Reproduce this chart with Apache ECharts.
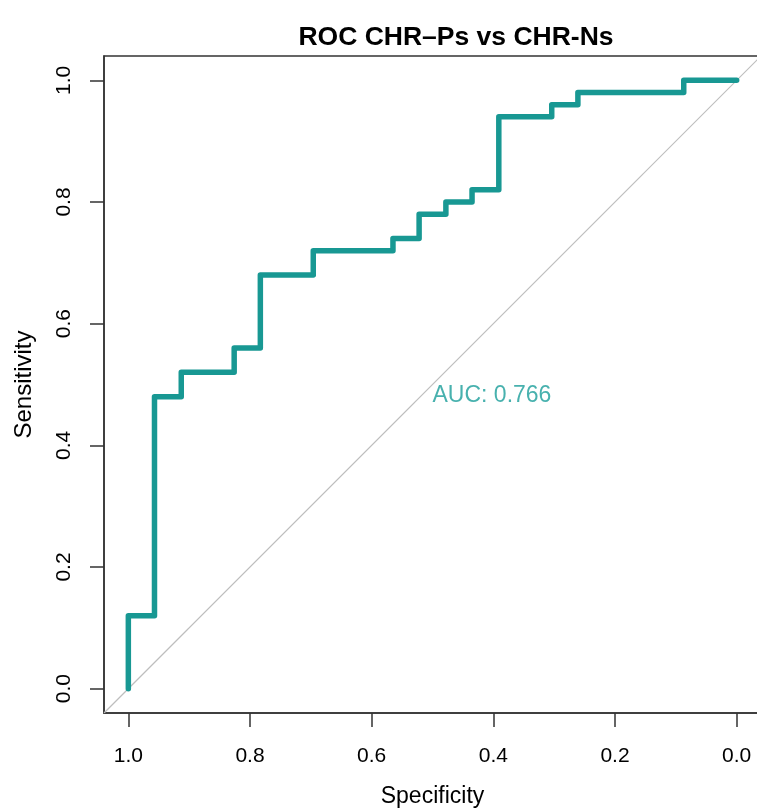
<!DOCTYPE html>
<html>
<head>
<meta charset="utf-8">
<script src="https://cdn.jsdelivr.net/npm/echarts@6/dist/echarts.min.js"></script>
<style>
html,body{margin:0;padding:0;background:#fff;overflow:hidden;}
#chart{width:757px;height:811px;}
</style>
</head>
<body>
<div id="chart"></div>
<script>
// ROC curve corner points (specificity, sensitivity)
var specificity = [1.000, 1.000, 0.957, 0.957, 0.913, 0.913, 0.826, 0.826, 0.783, 0.783,
                   0.696, 0.696, 0.565, 0.565, 0.522, 0.522, 0.478, 0.478, 0.435, 0.435,
                   0.391, 0.391, 0.304, 0.304, 0.261, 0.261, 0.087, 0.087, 0.000];
var sensitivity = [0.00, 0.12, 0.12, 0.48, 0.48, 0.52, 0.52, 0.56, 0.56, 0.68,
                   0.68, 0.72, 0.72, 0.74, 0.74, 0.78, 0.78, 0.80, 0.80, 0.82,
                   0.82, 0.94, 0.94, 0.96, 0.96, 0.98, 0.98, 1.00, 1.00];
var tickValues = [0, 0.2, 0.4, 0.6, 0.8, 1.0];
var tickLabels = ['0.0', '0.2', '0.4', '0.6', '0.8', '1.0'];
var diagonalSpec = [1.04, -0.04];
var diagonalSens = [-0.04, 1.04];
var aucText = 'AUC: 0.766';
var aucPos = [0.5, 0.5];
var titleText = 'ROC CHR\u2013Ps vs CHR-Ns';

var teal = '#189893';
var font = 'Liberation Sans';

var rocData = specificity.map(function (s, i) { return [s, sensitivity[i]]; });
var diagData = diagonalSpec.map(function (s, i) { return [s, diagonalSens[i]]; });

function fmt(v) {
  var i = tickValues.indexOf(Math.round(v * 10) / 10);
  return i >= 0 ? tickLabels[i] : '';
}

var chart = echarts.init(document.getElementById('chart'), null, {renderer: 'canvas'});
chart.setOption({
  animation: false,
  backgroundColor: '#fff',
  title: {
    text: titleText,
    left: 451,
    textAlign: 'center',
    top: 19,
    textStyle: {fontFamily: font, fontWeight: 'bold', fontSize: 26.5, color: '#000'}
  },
  grid: {
    left: 104, top: 56, width: 657, height: 657,
    outerBoundsMode: 'none',
    show: true, borderColor: '#333', borderWidth: 1.5, containLabel: false
  },
  xAxis: {
    type: 'value', inverse: true, min: -0.04, max: 1.04,
    name: 'Specificity', nameLocation: 'middle', nameGap: 72,
    nameTextStyle: {fontFamily: font, fontSize: 23, color: '#000'},
    axisLine: {show: true, onZero: false, lineStyle: {color: '#333', width: 1.5}},
    axisTick: {show: true, customValues: tickValues, length: 14, lineStyle: {color: '#333', width: 1.5}},
    axisLabel: {customValues: tickValues, formatter: fmt, margin: 33,
      fontFamily: font, fontSize: 21, color: '#000'},
    splitLine: {show: false}
  },
  yAxis: {
    type: 'value', min: -0.04, max: 1.04,
    name: 'Sensitivity', nameLocation: 'middle', nameGap: 68, nameRotate: 90,
    nameTextStyle: {fontFamily: font, fontSize: 24, color: '#000'},
    axisLine: {show: true, onZero: false, lineStyle: {color: '#333', width: 1.5}},
    axisTick: {show: true, customValues: tickValues, length: 14, lineStyle: {color: '#333', width: 1.5}},
    axisLabel: {customValues: tickValues, formatter: fmt, margin: 29, rotate: 90,
      fontFamily: font, fontSize: 21, color: '#000'},
    splitLine: {show: false}
  },
  series: [
    {
      type: 'line', data: diagData, showSymbol: false, silent: true,
      lineStyle: {color: '#bebebe', width: 1.2}, z: 1
    },
    {
      type: 'line', data: rocData, showSymbol: false, silent: true,
      lineStyle: {color: teal, width: 5.5, cap: 'round', join: 'round'}, z: 3
    },
    {
      type: 'scatter', data: [aucPos], symbolSize: 0, silent: true,
      label: {show: true, position: [0, 0], formatter: aucText,
        align: 'left', verticalAlign: 'top',
        fontFamily: font, fontSize: 23, color: '#1a9e9a'},
      z: 4
    }
  ]
});
</script>
</body>
</html>
